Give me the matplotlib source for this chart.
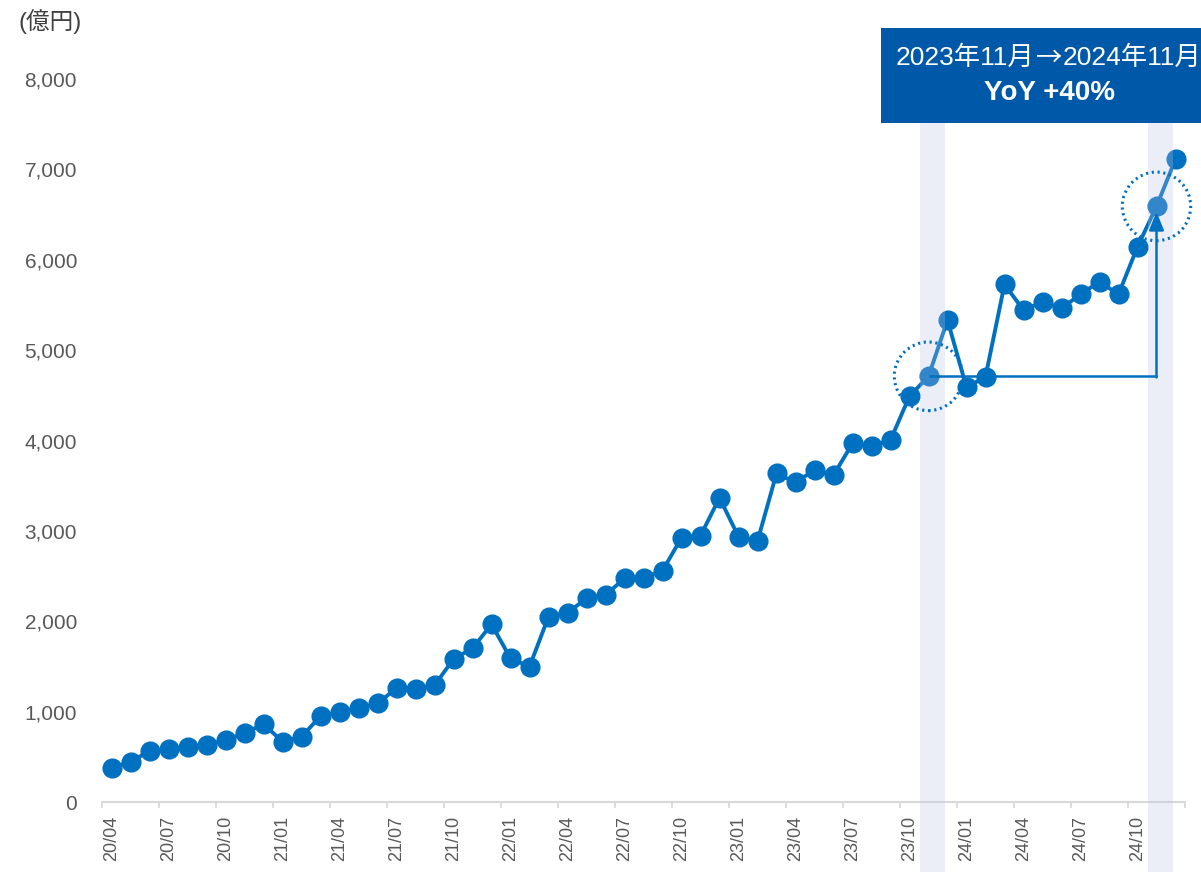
import numpy as np
import pandas as pd
import matplotlib
matplotlib.use('Agg')
import matplotlib.pyplot as plt
from matplotlib.patches import Rectangle, Ellipse
from matplotlib.transforms import blended_transform_factory

# 数字は Arial 系、漢字は CJK フォントで描く
plt.rcParams['font.family'] = ['Liberation Sans', 'Noto Sans CJK JP']

# 月次データ (億円)
months = pd.period_range('2020-04', '2024-12', freq='M').strftime('%y/%m').tolist()
values = [379, 442, 567, 583, 612, 630, 686, 760, 863, 667, 722, 951,
          992, 1036, 1092, 1258, 1247, 1291, 1582, 1700, 1966, 1590, 1497, 2050,
          2094, 2253, 2290, 2474, 2481, 2559, 2924, 2946, 3366, 2935, 2887, 3636,
          3536, 3673, 3617, 3968, 3938, 4004, 4491, 4710, 5332, 4587, 4705, 5727,
          5442, 5534, 5461, 5619, 5756, 5619, 6143, 6590, 7113]
yticks = [0, 1000, 2000, 3000, 4000, 5000, 6000, 7000, 8000]
yoy_from = '23/11'
yoy_to = '24/11'

blue = '#0070C0'
gray = '#595959'

x = np.arange(len(months))
i0 = months.index(yoy_from)
i1 = months.index(yoy_to)
v0 = values[i0]
v1 = values[i1]
yoy = round((v1 / v0 - 1) * 100)

fig = plt.figure(figsize=(12.01, 8.72), dpi=100)
ax = fig.add_axes([102 / 1201, 70 / 872, 1083 / 1201, 723 / 872])

# 折れ線
ax.plot(x, values, color=blue, lw=2.8, marker='o', ms=13.5, mfc=blue, mec=blue,
        zorder=3, clip_on=False)

# 比較月の帯 (グラフの上まではみ出す)
trans = blended_transform_factory(ax.transData, fig.transFigure)
for i in (i0, i1):
    band = Rectangle((i - 0.45, 0), 1.3, 749 / 872, transform=trans,
                     facecolor=(186 / 255, 193 / 255, 229 / 255), alpha=0.28,
                     edgecolor='none', clip_on=False, zorder=4)
    ax.add_patch(band)

# 点線の円
for i, v in ((i0, v0), (i1, v1)):
    circ = Ellipse((i, v), 3.6, 760, fill=False, edgecolor=blue, lw=2.2,
                   linestyle=(0, (0.7, 1.2)), clip_on=False, zorder=5)
    ax.add_patch(circ)

# 前年同月からの矢印
ax.plot([i0, i1], [v0, v0], color=blue, lw=1.8, zorder=5, solid_capstyle='butt')
ax.annotate('', xy=(i1, v1 - 60), xytext=(i1, v0 - 12),
            arrowprops=dict(arrowstyle='-|>,head_length=1.1,head_width=0.45',
                            color=blue, lw=1.8, shrinkA=0, shrinkB=0),
            zorder=5)

# 軸まわり
ax.set_xlim(-0.5, len(months) - 0.5)
ax.set_ylim(0, 8000)
for s in ('left', 'top', 'right'):
    ax.spines[s].set_visible(False)
ax.spines['bottom'].set_color('#D9D9D9')
ax.spines['bottom'].set_linewidth(1.5)

ax.set_yticks(yticks)
ax.set_yticklabels([f'{v:,}' for v in yticks])
ax.tick_params(axis='y', length=0, pad=18, labelsize=15, labelcolor=gray)

ax.set_xticks(x[::3])
ax.set_xticklabels(months[::3], rotation=90)
ax.set_xticks(np.arange(-0.5, len(months), 3), minor=True)
ax.tick_params(axis='x', which='major', length=0, pad=10, labelsize=13,
               labelcolor=gray)
ax.tick_params(axis='x', which='minor', length=4.5, width=1.3, color='#D9D9D9')

fig.text(18 / 1201, 1 - 22 / 872, '(億円)', ha='left', va='center',
         fontsize=17, color='#404040')

# 右上の YoY ボックス
box = Rectangle((881 / 1201, 749 / 872), 320 / 1201, 95 / 872,
                transform=fig.transFigure, facecolor='#0058A8',
                edgecolor='none', zorder=6)
fig.add_artist(box)
y1 = 1 - 58 / 872
fig.text(1034 / 1201, y1, f'20{yoy_from[:2]}年{int(yoy_from[3:])}月',
         ha='right', va='center', fontsize=19, color='white', zorder=7)
fig.text(1049 / 1201, y1, '→', ha='center', va='center', fontsize=19,
         color='white', family='Noto Sans CJK JP', zorder=7)
fig.text(1063 / 1201, y1, f'20{yoy_to[:2]}年{int(yoy_to[3:])}月',
         ha='left', va='center', fontsize=19, color='white', zorder=7)
fig.text(1049 / 1201, 1 - 93 / 872, f'YoY +{yoy}%', ha='center', va='center',
         fontsize=20, fontweight='bold', color='white', zorder=7)

fig.savefig('out.png', dpi=100)
